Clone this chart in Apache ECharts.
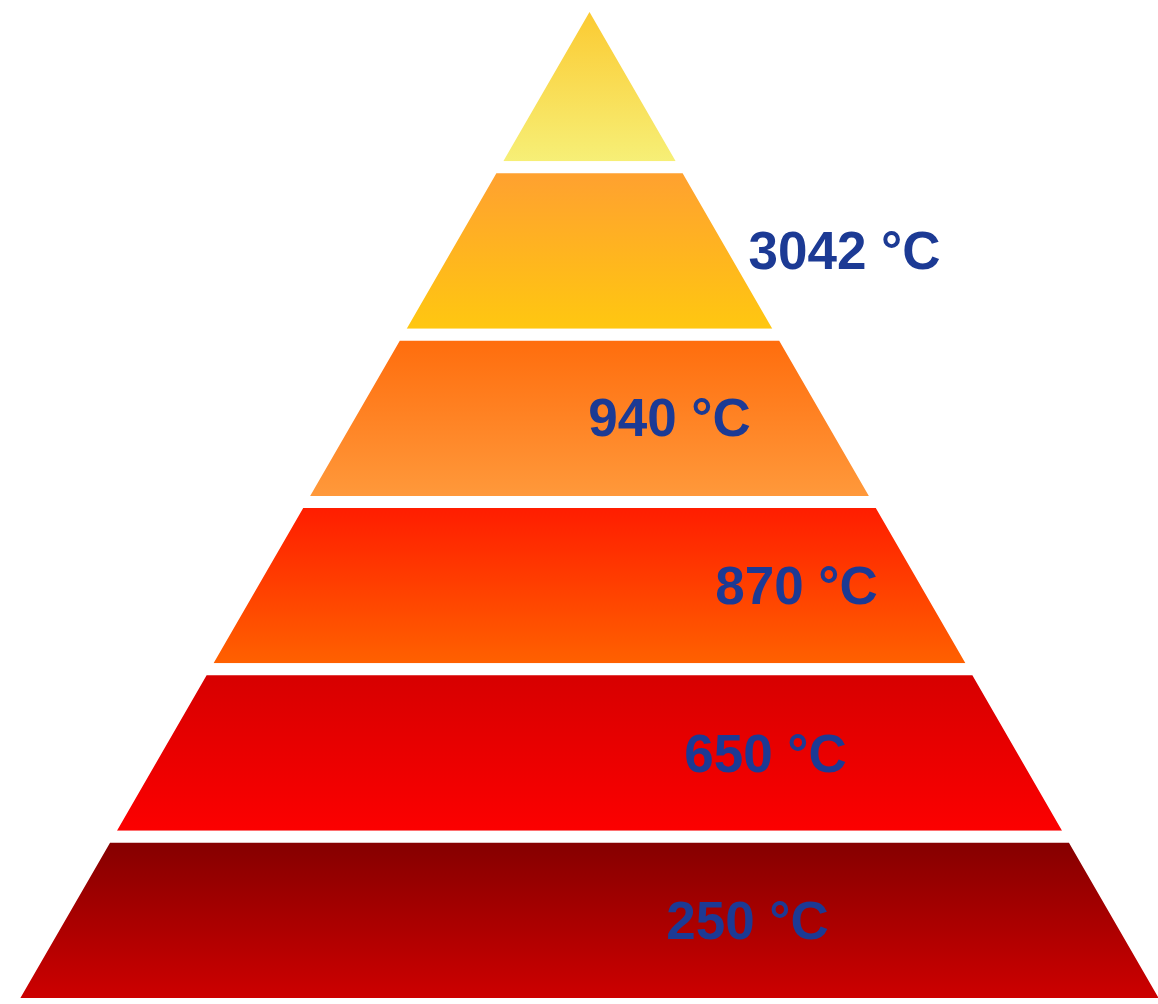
<!DOCTYPE html>
<html>
<head>
<meta charset="utf-8">
<script src="https://cdn.jsdelivr.net/npm/echarts@6/dist/echarts.min.js"></script>
<style>
html,body{margin:0;padding:0;background:#fff;}
#chart{width:1158px;height:1004px;}
</style>
</head>
<body>
<div id="chart"></div>
<script>
// Layers listed from top (apex) to bottom (base)
var layerNames = ['Layer 1', 'Layer 2', 'Layer 3', 'Layer 4', 'Layer 5', 'Layer 6'];
var layerSizes = [1, 2, 3, 4, 5, 6];
var layerLabels = ['', '3042 °C', '940 °C', '870 °C', '650 °C', '250 °C'];
var gradientTop = ['#fcc62a', '#ff9e32', '#ff6a0a', '#ff1800', '#d40000', '#800000'];
var gradientBottom = ['#f6f27c', '#ffca0e', '#ff9c3e', '#ff6600', '#ff0000', '#d20000'];
var labelOffsetX = [0, 255, 80, 207, 176, 158];
var labelOffsetY = [0, 3, 3, 4, 4, 4];

var chart = echarts.init(document.getElementById('chart'), null, {renderer: 'canvas'});

var data = layerNames.map(function (name, i) {
  return {
    name: name,
    value: layerSizes[i],
    itemStyle: {
      color: new echarts.graphic.LinearGradient(0, 0, 0, 1, [
        {offset: 0, color: gradientTop[i]},
        {offset: 1, color: gradientBottom[i]}
      ])
    },
    label: {
      show: layerLabels[i] !== '',
      formatter: layerLabels[i] || ' '
    }
  };
});

chart.setOption({
  animation: false,
  backgroundColor: '#ffffff',
  series: [{
    type: 'funnel',
    left: 10,
    top: 0,
    width: 1159,
    height: 1004,
    min: 0,
    max: 6,
    minSize: '0%',
    maxSize: '100%',
    sort: 'ascending',
    gap: 0,
    silent: true,
    itemStyle: {
      borderColor: '#ffffff',
      borderWidth: 12
    },
    label: {
      show: true,
      position: 'inside',
      color: '#1c3a94',
      fontFamily: 'Liberation Sans, Arial, sans-serif',
      fontWeight: 'bold',
      fontSize: 53
    },
    labelLayout: function (params) {
      var i = params.dataIndex;
      return {dx: labelOffsetX[i], dy: labelOffsetY[i]};
    },
    labelLine: {show: false},
    emphasis: {disabled: true},
    data: data
  }]
});
</script>
</body>
</html>
